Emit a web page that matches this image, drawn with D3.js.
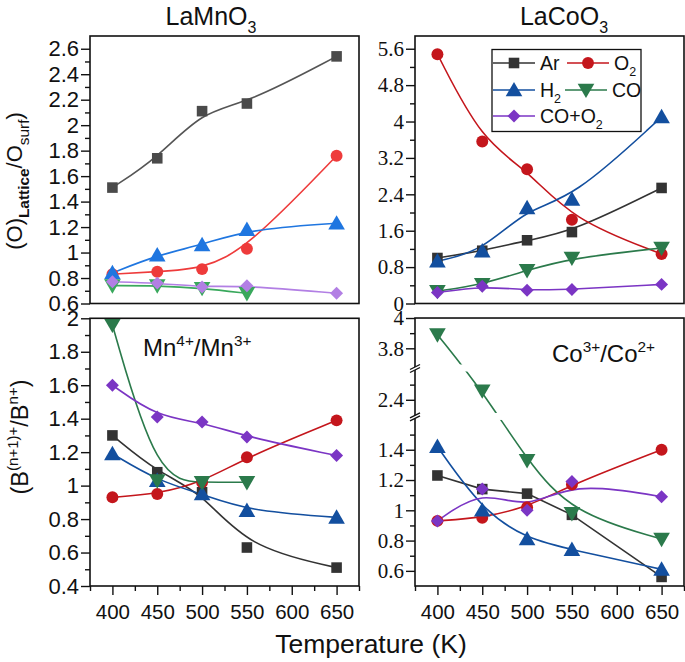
<!DOCTYPE html>
<html><head><meta charset="utf-8">
<script src="https://cdn.jsdelivr.net/npm/d3@7"></script>
<style>body{margin:0;background:#fff}</style>
</head><body>
<svg id="c" width="685" height="662" xmlns="http://www.w3.org/2000/svg"></svg>
<script>
// ---------- DATA ----------
const temps = [400, 450, 500, 550, 650];
const tempsMnCO = [400, 450, 500, 550];
const xTickValues = [400, 450, 500, 550, 600, 650];
const seriesNames = ["Ar", "O2", "H2", "CO", "CO+O2"];

// LaMnO3 : (O)Lattice/Osurf
const mnLatAr   = [1.51, 1.74, 2.11, 2.17, 2.54];
const mnLatO2   = [0.83, 0.85, 0.87, 1.03, 1.76];
const mnLatH2   = [0.84, 0.98, 1.06, 1.18, 1.23];
const mnLatCO   = [0.74, 0.74, 0.72, 0.68];
const mnLatCOO2 = [0.77, 0.76, 0.73, 0.74, 0.68];

// LaCoO3 : (O)Lattice/Osurf
const coLatAr   = [1.00, 1.16, 1.39, 1.57, 2.54];
const coLatO2   = [5.48, 3.56, 2.95, 1.84, 1.09];
const coLatH2   = [0.93, 1.15, 2.10, 2.29, 4.10];
const coLatCO   = [0.27, 0.42, 0.73, 1.00, 1.22];
const coLatCOO2 = [0.24, 0.38, 0.29, 0.31, 0.42];

// LaMnO3 : Mn4+/Mn3+
const mnRatAr   = [1.30, 1.08, 0.96, 0.63, 0.51];
const mnRatO2   = [0.93, 0.95, 1.02, 1.17, 1.39];
const mnRatH2   = [1.19, 1.03, 0.95, 0.85, 0.81];
const mnRatCO   = [1.96, 1.03, 1.02, 1.02];
const mnRatCOO2 = [1.60, 1.41, 1.38, 1.29, 1.18];

// LaCoO3 : Co3+/Co2+
const coRatAr   = [1.23, 1.14, 1.11, 0.97, 0.56];
const coRatO2   = [0.93, 0.95, 1.02, 1.17, 1.40];
const coRatH2   = [1.42, 1.00, 0.81, 0.74, 0.61];
const coRatCO   = [3.89, 2.46, 1.33, 0.98, 0.81];
const coRatCOO2 = [0.93, 1.14, 1.00, 1.19, 1.09];

// tick values
const tlMajor = [0.6, 0.8, 1.0, 1.2, 1.4, 1.6, 1.8, 2.0, 2.2, 2.4, 2.6];
const tlMinor = [0.7, 0.9, 1.1, 1.3, 1.5, 1.7, 1.9, 2.1, 2.3, 2.5];
const trMajor = [0, 0.8, 1.6, 2.4, 3.2, 4.0, 4.8, 5.6];
const trMinor = [0.4, 1.2, 2.0, 2.8, 3.6, 4.4, 5.2];
const blMajor = [0.4, 0.6, 0.8, 1.0, 1.2, 1.4, 1.6, 1.8, 2.0];
const blMinor = [0.5, 0.7, 0.9, 1.1, 1.3, 1.5, 1.7, 1.9];
const brMajor = [0.6, 0.8, 1.0, 1.2, 1.4, 2.4, 3.8, 4.0];
const brMinor = [0.7, 0.9, 1.1, 1.3, 1.5, 2.5, 3.9];
const brDomain = [0.5, 1.62, 2.29, 2.61, 3.67, 4.0]; // broken axis segments
const xMinor = [375, 425, 475, 525, 575, 625, 675];

// ---------- STYLE ----------
const SANS = "'Liberation Sans', Arial, Helvetica, sans-serif";
const SERIF = "'Liberation Serif', 'Times New Roman', serif";
const darkColors  = {"Ar": "#333333", "O2": "#c4161c", "H2": "#134f9f", "CO": "#2b7a4b", "CO+O2": "#7b35c4"};
const lightColors = {"Ar": "#4a4a4a", "O2": "#ee3b3b", "H2": "#1f76e0", "CO": "#39a85c", "CO+O2": "#b27fe4"};
const lightLine   = {"Ar": "#555555", "O2": "#ee3b3b", "H2": "#1f76e0", "CO": "#39a85c", "CO+O2": "#b27fe4"};

const svg = d3.select("#c");
svg.append("rect").attr("width", 685).attr("height", 662).attr("fill", "#fff");

function markerPath(name) {
  if (name === "Ar") return d3.symbol(d3.symbolSquare, 112)();
  if (name === "O2") return d3.symbol(d3.symbolCircle, 112)();
  if (name === "H2" || name === "CO") return d3.symbol(d3.symbolTriangle, 120)();
  return d3.symbol(d3.symbolSquare, 84)();
}
function markerRot(name) {
  if (name === "CO") return 180;
  if (name === "CO+O2") return 45;
  return 0;
}
function markerDy(name) {
  return name === "H2" ? 1.5 : name === "CO" ? -1.5 : 0;
}

const xRangeL = [90, 359], xRangeR = [415, 684];
const yTop = [303.5, 36], yBot = [586, 318.3];

function drawPanel(cfg) {
  const g = svg.append("g");
  const x = d3.scaleLinear().domain([375, 675]).range(cfg.xr);
  const y = cfg.y;
  const [x0, x1] = cfg.xr;
  const yb = y.range()[0], yt = y.range()[y.range().length - 1];

  // lines
  const lg = g.append("g");
  if (cfg.mask) lg.attr("mask", "url(#" + cfg.mask + ")");
  cfg.series.forEach(s => {
    const pts = s.t.map((t, i) => [x(t), y(s.v[i])]);
    lg.append("path")
      .attr("d", d3.line().curve(s.curve || d3.curveBasis)(pts))
      .attr("fill", "none")
      .attr("stroke", cfg.lineColors[s.name])
      .attr("stroke-width", 1.6);
  });
  // markers
  cfg.series.forEach(s => {
    s.t.forEach((t, i) => {
      g.append("path")
        .attr("d", markerPath(s.name))
        .attr("transform", `translate(${x(t)},${y(s.v[i]) + markerDy(s.name)}) rotate(${markerRot(s.name)})`)
        .attr("fill", cfg.colors[s.name]);
    });
  });

  // frame
  g.append("rect").attr("x", x0).attr("y", yt).attr("width", x1 - x0).attr("height", yb - yt)
    .attr("fill", "none").attr("stroke", "#111").attr("stroke-width", 1.6);

  // y ticks
  const ya = g.append("g").attr("transform", `translate(${x0},0)`);
  ya.call(d3.axisLeft(y).tickValues(cfg.yMajor).tickSize(9).tickPadding(2).tickFormat(cfg.fmt));
  ya.select(".domain").remove();
  ya.selectAll("line").attr("stroke", "#111").attr("stroke-width", 1.4);
  ya.selectAll("text").attr("font-family", cfg.yFont).attr("font-size", cfg.yFontSize).attr("fill", "#111");
  const ym = g.append("g").attr("transform", `translate(${x0},0)`);
  ym.call(d3.axisLeft(y).tickValues(cfg.yMinor).tickSize(5).tickFormat(""));
  ym.select(".domain").remove();
  ym.selectAll("line").attr("stroke", "#111").attr("stroke-width", 1.4);

  // x ticks
  if (cfg.xAxis) {
    const xa = g.append("g").attr("transform", `translate(0,${yb})`);
    xa.call(d3.axisBottom(x).tickValues(xTickValues).tickSize(9).tickPadding(9).tickFormat(d3.format("d")));
    xa.select(".domain").remove();
    xa.selectAll("line").attr("stroke", "#111").attr("stroke-width", 1.4);
    xa.selectAll("text").attr("font-family", SANS).attr("font-size", 20.5).attr("fill", "#111");
    const xm = g.append("g").attr("transform", `translate(0,${yb})`);
    xm.call(d3.axisBottom(x).tickValues(xMinor).tickSize(5).tickFormat(""));
    xm.select(".domain").remove();
    xm.selectAll("line").attr("stroke", "#111").attr("stroke-width", 1.4);
  }
  return {g, x, y};
}

function mkSeries(ar, o2, h2, co, coo2, coTemps, curves) {
  const c = curves || {};
  return [
    {name: "Ar", t: temps, v: ar, curve: c.Ar},
    {name: "O2", t: temps, v: o2, curve: c.O2},
    {name: "H2", t: temps, v: h2, curve: c.H2},
    {name: "CO", t: coTemps, v: co, curve: c.CO},
    {name: "CO+O2", t: temps, v: coo2, curve: c["CO+O2"]},
  ];
}

const fmtTrim = d => d3.format(".1f")(d).replace(/\.0$/, "");

// broken-axis scale
const brY = d3.scaleLinear().domain(brDomain);
const seg = 151.4;
const r0 = 586;
const r1 = r0 - (brDomain[1] - brDomain[0]) * seg;
const r2 = r1;
const r3 = r2 - (brDomain[3] - brDomain[2]) * seg;
const r4 = r3;
const r5 = r4 - (brDomain[5] - brDomain[4]) * seg;
brY.range([r0, r1, r2, r3, r4, r5]);

const defs = svg.append("defs");
const mask = defs.append("mask").attr("id", "brMask").attr("maskUnits", "userSpaceOnUse")
  .attr("x", 0).attr("y", 0).attr("width", 685).attr("height", 662);
mask.append("rect").attr("width", 685).attr("height", 662).attr("fill", "#fff");
[r1, r3].forEach(ry => mask.append("rect").attr("x", 416).attr("y", ry - 3.5).attr("width", 268).attr("height", 7).attr("fill", "#000"));

// ---------- PANELS ----------
drawPanel({
  xr: xRangeL, y: d3.scaleLinear().domain([0.6, 2.7]).range(yTop),
  series: mkSeries(mnLatAr, mnLatO2, mnLatH2, mnLatCO, mnLatCOO2, tempsMnCO),
  colors: lightColors, lineColors: lightLine,
  yMajor: tlMajor, yMinor: tlMinor, fmt: fmtTrim, yFont: SANS, yFontSize: 22, xAxis: false
});
drawPanel({
  xr: xRangeR, y: d3.scaleLinear().domain([0, 5.88]).range(yTop),
  series: mkSeries(coLatAr, coLatO2, coLatH2, coLatCO, coLatCOO2, temps),
  colors: darkColors, lineColors: darkColors,
  yMajor: trMajor, yMinor: trMinor, fmt: fmtTrim, yFont: SERIF, yFontSize: 21, xAxis: false
});
drawPanel({
  xr: xRangeL, y: d3.scaleLinear().domain([0.4, 2.0]).range(yBot),
  series: mkSeries(mnRatAr, mnRatO2, mnRatH2, mnRatCO, mnRatCOO2, tempsMnCO),
  colors: darkColors, lineColors: darkColors,
  yMajor: blMajor, yMinor: blMinor, fmt: fmtTrim, yFont: SANS, yFontSize: 22, xAxis: true
});
drawPanel({
  xr: xRangeR, y: brY,
  series: mkSeries(coRatAr, coRatO2, coRatH2, coRatCO, coRatCOO2, temps, {Ar: d3.curveLinear}),
  colors: darkColors, lineColors: darkColors, mask: "brMask",
  yMajor: brMajor, yMinor: brMinor, fmt: fmtTrim, yFont: SERIF, yFontSize: 21, xAxis: true
});

// break marks on the broken axis
[r1, r3].forEach(ry => {
  svg.append("path").attr("d", `M410,${ry + 4.5} L420,${ry - 0.5} L420,${ry - 3.5} L410,${ry + 1.5} Z`).attr("fill", "#fff");
  svg.append("line").attr("x1", 410).attr("y1", ry + 1.5).attr("x2", 420).attr("y2", ry - 3.5).attr("stroke", "#111").attr("stroke-width", 1.3);
  svg.append("line").attr("x1", 410).attr("y1", ry + 4.5).attr("x2", 420).attr("y2", ry - 0.5).attr("stroke", "#111").attr("stroke-width", 1.3);
});

// ---------- TEXT ----------
function subText(parent, x, y, parts, size, anchor, family, subScale) {
  const sc = subScale || 0.64;
  const t = parent.append("text").attr("x", x).attr("y", y).attr("font-family", family || SANS)
    .attr("font-size", size).attr("fill", "#111").attr("text-anchor", anchor || "start");
  let shift = 0;
  parts.forEach(p => {
    const target = p.sub ? size * 0.3 : p.sup ? -size * 0.42 : 0;
    const ts = t.append("tspan").text(p.t).attr("dy", target - shift)
      .attr("font-size", (p.sub || p.sup) ? size * sc : size);
    if (p.bold) ts.attr("font-weight", "bold");
    shift = target;
  });
  return t;
}

// titles
subText(svg, 211, 25, [{t: "LaMnO"}, {t: "3", sub: true}], 25, "middle");
subText(svg, 564, 25, [{t: "LaCoO"}, {t: "3", sub: true}], 25, "middle");

// y axis titles
const yl1 = svg.append("g").attr("transform", "translate(22,181) rotate(-90)");
subText(yl1, 0, 0, [{t: "(O)"}, {t: "Lattice", sub: true, bold: true}, {t: "/O"}, {t: "surf", sub: true}, {t: ")"}], 22, "middle", SANS, 0.7);
const yl2 = svg.append("g").attr("transform", "translate(28,437) rotate(-90)");
subText(yl2, 0, 0, [{t: "(B"}, {t: "(n+1)+", sup: true}, {t: "/B"}, {t: "n+", sup: true}, {t: ")"}], 23.5, "middle");

// x title
svg.append("text").attr("x", 371).attr("y", 653).attr("text-anchor", "middle")
  .attr("font-family", SANS).attr("font-size", 26.5).attr("fill", "#111").text("Temperature (K)");

// annotations
subText(svg, 143, 356, [{t: "Mn"}, {t: "4+", sup: true}, {t: "/Mn"}, {t: "3+", sup: true}], 24, "start");
subText(svg, 552, 362, [{t: "Co"}, {t: "3+", sup: true}, {t: "/Co"}, {t: "2+", sup: true}], 24, "start");

// ---------- LEGEND ----------
const leg = svg.append("g");
leg.append("rect").attr("x", 492).attr("y", 49.5).attr("width", 149).attr("height", 82)
  .attr("fill", "#fff").attr("stroke", "#111").attr("stroke-width", 1.3);
const legItems = [
  {name: "Ar", x: 493, y: 63, label: [{t: "Ar"}]},
  {name: "O2", x: 567, y: 63, label: [{t: "O"}, {t: "2", sub: true}]},
  {name: "H2", x: 493, y: 90, label: [{t: "H"}, {t: "2", sub: true}]},
  {name: "CO", x: 565, y: 90, label: [{t: "CO"}]},
  {name: "CO+O2", x: 493, y: 116, label: [{t: "CO+O"}, {t: "2", sub: true}]},
];
legItems.forEach(it => {
  leg.append("line").attr("x1", it.x).attr("x2", it.x + 42).attr("y1", it.y).attr("y2", it.y)
    .attr("stroke", darkColors[it.name]).attr("stroke-width", 1.6);
  leg.append("path").attr("d", markerPath(it.name))
    .attr("transform", `translate(${it.x + 21},${it.y + markerDy(it.name)}) rotate(${markerRot(it.name)})`)
    .attr("fill", darkColors[it.name]);
  subText(leg, it.x + 47, it.y + 7, it.label, 19.5, "start");
});
</script>
</body></html>
